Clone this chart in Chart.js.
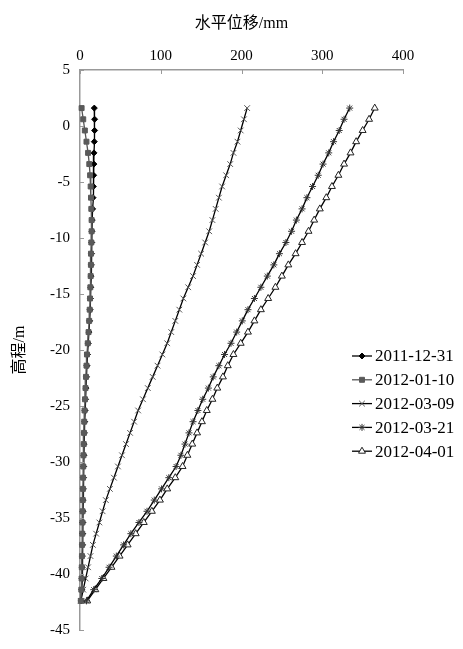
<!DOCTYPE html>
<html>
<head>
<meta charset="utf-8">
<script src="https://cdn.jsdelivr.net/npm/chart.js@4.4.0/dist/chart.umd.min.js"></script>
<style>
  html, body { margin: 0; padding: 0; background: #fff; }
  #wrap { width: 463px; height: 649px; }
</style>
</head>
<body>
<div id="wrap"><canvas id="grafico" width="463" height="649"></canvas></div>
<script>
// depth (elevation, m) of each reading
const depths = [1.6, 0.6, -0.4, -1.4, -2.4, -3.4, -4.4, -5.4, -6.4, -7.4,
  -8.4, -9.4, -10.4, -11.4, -12.4, -13.4, -14.4, -15.4, -16.4, -17.4,
  -18.4, -19.4, -20.4, -21.4, -22.4, -23.4, -24.4, -25.4, -26.4, -27.4,
  -28.4, -29.4, -30.4, -31.4, -32.4, -33.4, -34.4, -35.4, -36.4, -37.4,
  -38.4, -39.4, -40.4, -41.4, -42.4]

const seriesNames = ['2011-12-31', '2012-01-10', '2012-03-09', '2012-03-21', '2012-04-01']

// horizontal displacement, mm
const d20111231 = [17.7, 18.1, 18.1, 17.7, 17.3, 17.2, 16.9, 16.5, 16.1, 15.6,
  15.1, 14.8, 14.5, 14.2, 14, 13.7, 13.3, 12.9, 12.5, 11.9,
  11.1, 10.2, 9.3, 8.6, 8, 7.4, 6.8, 6.2, 5.8, 5.4,
  5.1, 4.8, 4.5, 4.3, 4.1, 3.9, 3.7, 3.5, 3.3, 3.1,
  2.9, 2.7, 2.5, 2.1, 1.5]
const d20120110 = [2, 4, 6, 8, 10, 11.5, 12.5, 13.2, 13.6, 14,
  14.4, 14.4, 14, 13.6, 13.5, 13.2, 12.8, 12.4, 12, 11.4,
  10.6, 9.6, 8.6, 8, 7.4, 6.8, 6.2, 5.6, 5.2, 4.9,
  4.6, 4.3, 4, 3.8, 3.6, 3.4, 3.2, 3, 2.8, 2.6,
  2.4, 2.2, 2, 1.6, 1]
const d20120309 = [207, 203, 199, 195, 190, 186, 181, 176, 172, 168,
  164, 160, 155, 150, 145, 140, 134, 128, 123, 118,
  113, 108, 102, 96, 90, 84, 78, 72, 67, 62,
  57, 52, 47, 42, 37, 32, 28, 24, 20, 16,
  13, 10, 7, 4, 1]
const d20120321 = [334, 327, 321, 314, 308, 301, 295, 288, 281, 275,
  268, 262, 255, 247, 240, 232, 224, 216, 208, 201,
  194, 187, 179, 172, 165, 159, 152, 146, 140, 135,
  130, 125, 119, 110, 101, 92, 83, 73, 63, 54,
  45, 36, 27, 17, 8]
const d20120401 = [365, 358, 350, 342, 335, 327, 320, 312, 305, 297,
  290, 283, 275, 267, 258, 250, 242, 233, 224, 216,
  208, 199, 190, 183, 177, 170, 164, 157, 151, 145,
  139, 133, 127, 118, 108, 99, 89, 79, 69, 59,
  49, 39, 29, 19, 9]

const xTicks = [0, 100, 200, 300, 400]
const yTicks = [5, 0, -5, -10, -15, -20, -25, -30, -35, -40, -45]

const serif = "'Liberation Serif', 'Noto Sans CJK SC', serif"

function pares(xs) {
  return xs.map((v, i) => ({ x: v, y: depths[i] }))
}

const estilos = [
  { line: '#000', style: 'rectRot', r: 3, bg: '#000', bd: '#000', ordem: 2 },
  { line: '#555', style: 'rect', r: 3.5, bg: '#5a5a5a', bd: '#5a5a5a', ordem: 1 },
  { line: '#000', style: 'crossRot', r: 4, bg: '#555', bd: '#555', ordem: 3 },
  { line: '#000', style: 'star', r: 3.5, bg: '#333', bd: '#333', ordem: 4 },
  { line: '#000', style: 'triangle', r: 4, bg: '#fff', bd: '#222', ordem: 5 }
]
const valores = [d20111231, d20120110, d20120309, d20120321, d20120401]

const datasets = seriesNames.map((nome, i) => ({
  label: nome,
  data: pares(valores[i]),
  order: estilos[i].ordem,
  showLine: true,
  borderColor: estilos[i].line,
  borderWidth: 1.3,
  pointStyle: estilos[i].style,
  pointRadius: estilos[i].r,
  pointBackgroundColor: estilos[i].bg,
  pointBorderColor: estilos[i].bd,
  pointBorderWidth: 1,
  clip: false
}))

// ticks pointing into the plot, like the original
const ticksDentro = {
  id: 'ticksDentro',
  afterDraw(chart) {
    const ctx = chart.ctx
    const xs = chart.scales.x
    const ys = chart.scales.y
    const area = chart.chartArea
    ctx.save()
    ctx.strokeStyle = '#999'
    ctx.lineWidth = 1
    ctx.beginPath()
    xTicks.forEach(v => {
      const px = Math.round(xs.getPixelForValue(v)) + 0.5
      ctx.moveTo(px, area.top)
      ctx.lineTo(px, area.top + 4)
    })
    yTicks.forEach(v => {
      const py = Math.round(ys.getPixelForValue(v)) + 0.5
      ctx.moveTo(area.left, py)
      ctx.lineTo(area.left + 4, py)
    })
    ctx.stroke()
    ctx.restore()
  }
}

// legend drawn inside the plot on the right
const legenda = {
  id: 'legenda',
  afterDraw(chart) {
    const ctx = chart.ctx
    const x0 = 352, y0 = 356, passo = 23.8
    ctx.save()
    ctx.font = '17px ' + serif
    ctx.textBaseline = 'middle'
    ctx.fillStyle = '#000'
    seriesNames.forEach((nome, i) => {
      const y = y0 + i * passo
      const e = estilos[i]
      ctx.strokeStyle = e.line
      ctx.lineWidth = 1.3
      ctx.beginPath()
      ctx.moveTo(x0, y)
      ctx.lineTo(x0 + 20, y)
      ctx.stroke()
      ctx.fillStyle = e.bg
      ctx.strokeStyle = e.bd
      ctx.lineWidth = 1
      if (Chart.helpers && Chart.helpers.drawPoint) {
        Chart.helpers.drawPoint(ctx, { pointStyle: e.style, radius: e.r, borderWidth: 1, rotation: 0 }, x0 + 10, y)
      }
      ctx.fillStyle = '#000'
      ctx.fillText(nome, x0 + 23, y + 1)
    })
    ctx.restore()
  }
}

const grafico = document.getElementById('grafico').getContext('2d')
const meuGrafico = new Chart(grafico, {
  type: 'scatter',
  data: { datasets: datasets },
  options: {
    responsive: false,
    animation: false,
    devicePixelRatio: 1,
    layout: { padding: { left: 0, right: 60, top: 0, bottom: 12 } },
    plugins: {
      legend: { display: false },
      tooltip: { enabled: false }
    },
    scales: {
      x: {
        type: 'linear',
        position: 'top',
        min: 0,
        max: 400,
        afterFit: s => { s.height = 70 },
        afterBuildTicks: s => { s.ticks = xTicks.map(v => ({ value: v })) },
        ticks: { color: '#000', font: { family: serif, size: 15 }, padding: 5 },
        grid: { drawOnChartArea: false, drawTicks: false },
        border: { color: '#999', width: 1.5 },
        title: {
          display: true,
          text: '水平位移/mm',
          color: '#000',
          font: { family: serif, size: 16 },
          padding: { top: 14, bottom: 0 }
        }
      },
      y: {
        type: 'linear',
        position: 'left',
        min: -45,
        max: 5,
        afterFit: s => { s.width = 80 },
        afterBuildTicks: s => { s.ticks = yTicks.map(v => ({ value: v })) },
        ticks: { color: '#000', font: { family: serif, size: 15 }, padding: 10 },
        grid: { drawOnChartArea: false, drawTicks: false },
        border: { color: '#999', width: 1.5 },
        title: {
          display: true,
          text: '高程/m',
          color: '#000',
          font: { family: serif, size: 16 },
          padding: { top: 10, bottom: 0 }
        }
      }
    }
  },
  plugins: [ticksDentro, legenda]
})
</script>
</body>
</html>
